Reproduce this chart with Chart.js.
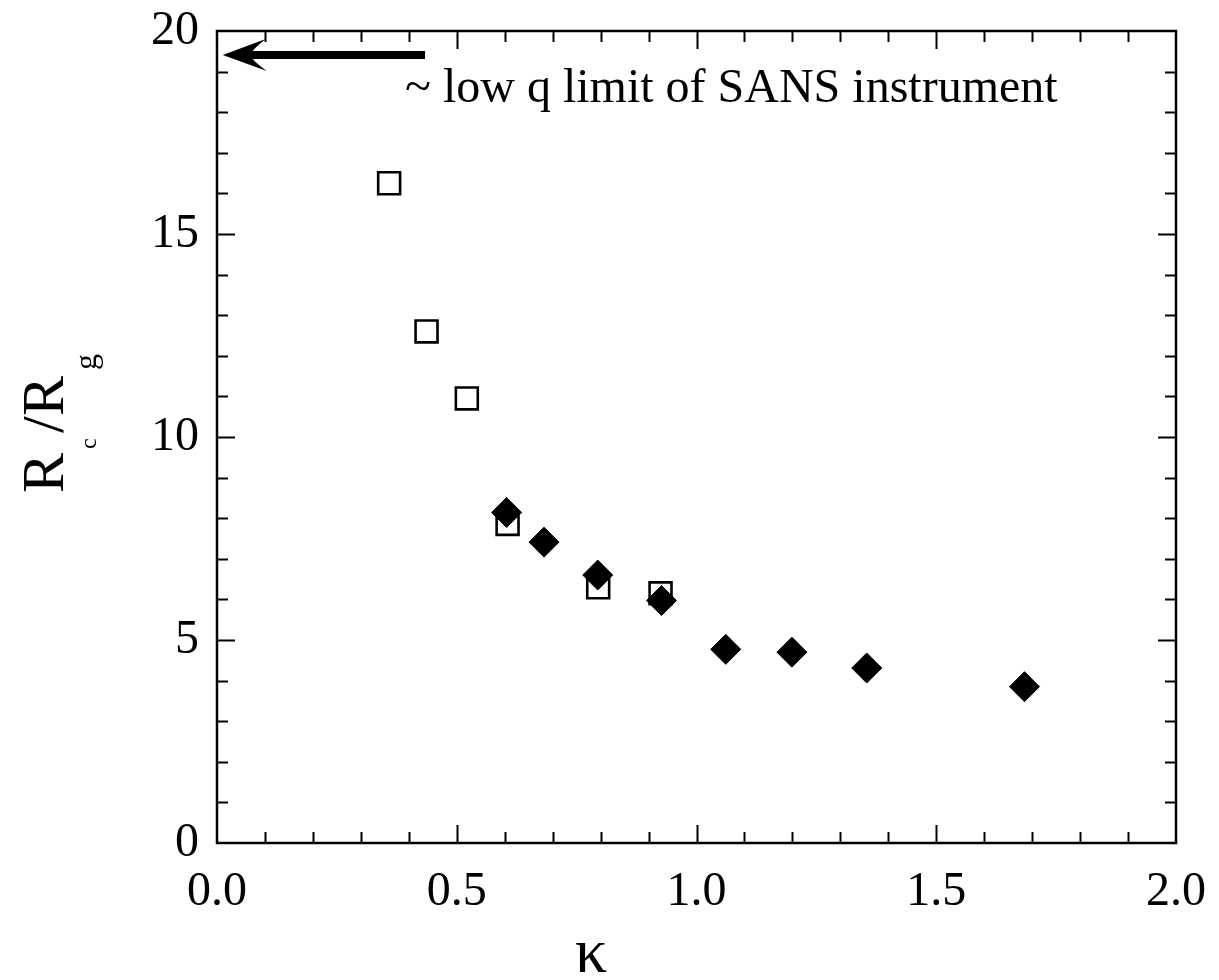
<!DOCTYPE html>
<html>
<head>
<meta charset="utf-8">
<script src="https://cdn.jsdelivr.net/npm/chart.js@4/dist/chart.umd.min.js"></script>
<style>
  html, body { margin: 0; padding: 0; background: #fff; }
  #wrap { width: 1219px; height: 980px; }
</style>
</head>
<body>
<div id="wrap"><canvas id="c" width="1219" height="980"></canvas></div>
<script>
// ---- data ----
const squaresX = [0.359, 0.437, 0.521, 0.606, 0.795, 0.925];
const squaresY = [16.25, 12.6, 10.95, 7.86, 6.3, 6.15];
const diamondsX = [0.604, 0.682, 0.794, 0.927, 1.061, 1.199, 1.355, 1.684];
const diamondsY = [8.14, 7.41, 6.6, 5.97, 4.77, 4.70, 4.31, 3.85];

const xTickLabels = ['0.0', '0.5', '1.0', '1.5', '2.0'];
const yTickLabels = ['0', '5', '10', '15', '20'];
const xRange = [0, 2];
const yRange = [0, 20];
const xMajorStep = 0.5, xMinorStep = 0.1;
const yMajorStep = 5, yMinorStep = 1;

// annotation (arrow + note), in data units
const arrowTail = [0.434, 19.41];
const arrowTip = [0.012, 19.41];
const noteText = '~ low q limit of SANS instrument';
const notePos = [0.392, 18.25];

const xTitle = 'κ';

const SERIF = "'Liberation Serif', 'Times New Roman', 'DejaVu Serif', serif";

const toPts = (xs, ys) => xs.map((x, i) => ({ x: x, y: ys[i] }));

const framePlugin = {
  id: 'frameTicks',
  afterDraw(chart) {
    const ctx = chart.ctx;
    const xs = chart.scales.x, ys = chart.scales.y;
    const a = chart.chartArea;
    ctx.save();
    ctx.strokeStyle = '#000';
    ctx.lineCap = 'butt';
    // frame
    ctx.lineWidth = 2.5;
    ctx.strokeRect(a.left, a.top, a.right - a.left, a.bottom - a.top);
    // ticks (inward) on all 4 sides
    ctx.lineWidth = 2;
    const nX = Math.round((xRange[1] - xRange[0]) / xMinorStep);
    for (let i = 1; i < nX; i++) {
      const v = xRange[0] + i * xMinorStep;
      const major = Math.abs(v / xMajorStep - Math.round(v / xMajorStep)) < 1e-6;
      const len = major ? 18 : 11;
      const px = Math.round(xs.getPixelForValue(v)) + 0.5;
      ctx.beginPath();
      ctx.moveTo(px, a.bottom); ctx.lineTo(px, a.bottom - len);
      ctx.moveTo(px, a.top); ctx.lineTo(px, a.top + len);
      ctx.stroke();
    }
    const nY = Math.round((yRange[1] - yRange[0]) / yMinorStep);
    for (let i = 1; i < nY; i++) {
      const v = yRange[0] + i * yMinorStep;
      const major = Math.abs(v / yMajorStep - Math.round(v / yMajorStep)) < 1e-6;
      const len = major ? 18 : 11;
      const py = Math.round(ys.getPixelForValue(v)) + 0.5;
      ctx.beginPath();
      ctx.moveTo(a.left, py); ctx.lineTo(a.left + len, py);
      ctx.moveTo(a.right, py); ctx.lineTo(a.right - len, py);
      ctx.stroke();
    }

    // arrow
    const tx = xs.getPixelForValue(arrowTail[0]), ty = ys.getPixelForValue(arrowTail[1]);
    const hx = xs.getPixelForValue(arrowTip[0]), hy = ys.getPixelForValue(arrowTip[1]);
    ctx.fillStyle = '#000';
    ctx.lineWidth = 8;
    ctx.beginPath();
    ctx.moveTo(tx, ty); ctx.lineTo(hx + 25, hy);
    ctx.stroke();
    ctx.beginPath();
    ctx.moveTo(hx, hy);
    ctx.lineTo(hx + 43, hy - 16);
    ctx.quadraticCurveTo(hx + 30, hy - 6, hx + 27, hy);
    ctx.quadraticCurveTo(hx + 30, hy + 6, hx + 44, hy + 16);
    ctx.closePath();
    ctx.fill();

    // note text
    ctx.font = '48px ' + SERIF;
    ctx.textAlign = 'left';
    ctx.textBaseline = 'alphabetic';
    ctx.fillText(noteText, xs.getPixelForValue(notePos[0]), ys.getPixelForValue(notePos[1]));

    // x title
    ctx.font = '64px ' + SERIF;
    ctx.textAlign = 'center';
    ctx.fillText(xTitle, 591, 972);

    // y title  R_c /R_g  (rotated)
    ctx.translate(63, 493);
    ctx.rotate(-Math.PI / 2);
    ctx.textAlign = 'left';
    ctx.textBaseline = 'alphabetic';
    ctx.font = '60px ' + SERIF;
    ctx.fillText('R', 0, 0);
    ctx.font = '24px ' + SERIF;
    ctx.fillText('c', 44, 33);
    ctx.font = '60px ' + SERIF;
    ctx.fillText('/', 60, 0);
    ctx.fillText('R', 77, 0);
    ctx.font = '32px ' + SERIF;
    ctx.fillText('g', 123, 33);
    ctx.restore();
  }
};

function noPad(scale) {
  scale.paddingTop = 0;
  scale.paddingBottom = 0;
  scale.paddingLeft = 0;
  scale.paddingRight = 0;
}

new Chart(document.getElementById('c'), {
  type: 'scatter',
  data: {
    datasets: [
      {
        label: 'filled',
        data: toPts(diamondsX, diamondsY),
        pointStyle: 'rectRot',
        pointRadius: 15,
        pointHoverRadius: 15,
        backgroundColor: '#000',
        borderColor: '#000',
        borderWidth: 1,
        order: 0
      },
      {
        label: 'open',
        data: toPts(squaresX, squaresY),
        pointStyle: 'rect',
        pointRadius: 15.5,
        pointHoverRadius: 15.5,
        backgroundColor: 'rgba(0,0,0,0)',
        borderColor: '#000',
        borderWidth: 2.6,
        order: 1
      }
    ]
  },
  options: {
    responsive: false,
    animation: false,
    events: [],
    layout: { padding: { left: 0, top: 31, right: 43, bottom: 0 } },
    plugins: { legend: { display: false }, tooltip: { enabled: false } },
    scales: {
      x: {
        type: 'linear',
        min: xRange[0], max: xRange[1],
        border: { display: false },
        grid: { display: false, drawTicks: false },
        afterFit(scale) { scale.height = 137; noPad(scale); },
        afterBuildTicks(scale) {
          scale.ticks = xTickLabels.map(t => ({ value: parseFloat(t) }));
        },
        ticks: {
          padding: 21,
          color: '#000',
          font: { family: SERIF, size: 48 },
          maxRotation: 0,
          autoSkip: false,
          callback: (v, i) => xTickLabels[i]
        }
      },
      y: {
        type: 'linear',
        min: yRange[0], max: yRange[1],
        border: { display: false },
        grid: { display: false, drawTicks: false },
        afterFit(scale) { scale.width = 217; noPad(scale); },
        afterBuildTicks(scale) {
          scale.ticks = yTickLabels.map(t => ({ value: parseFloat(t) }));
        },
        ticks: {
          padding: 18,
          color: '#000',
          font: { family: SERIF, size: 48 },
          autoSkip: false,
          callback: (v, i) => yTickLabels[i]
        }
      }
    }
  },
  plugins: [framePlugin]
});
</script>
</body>
</html>
